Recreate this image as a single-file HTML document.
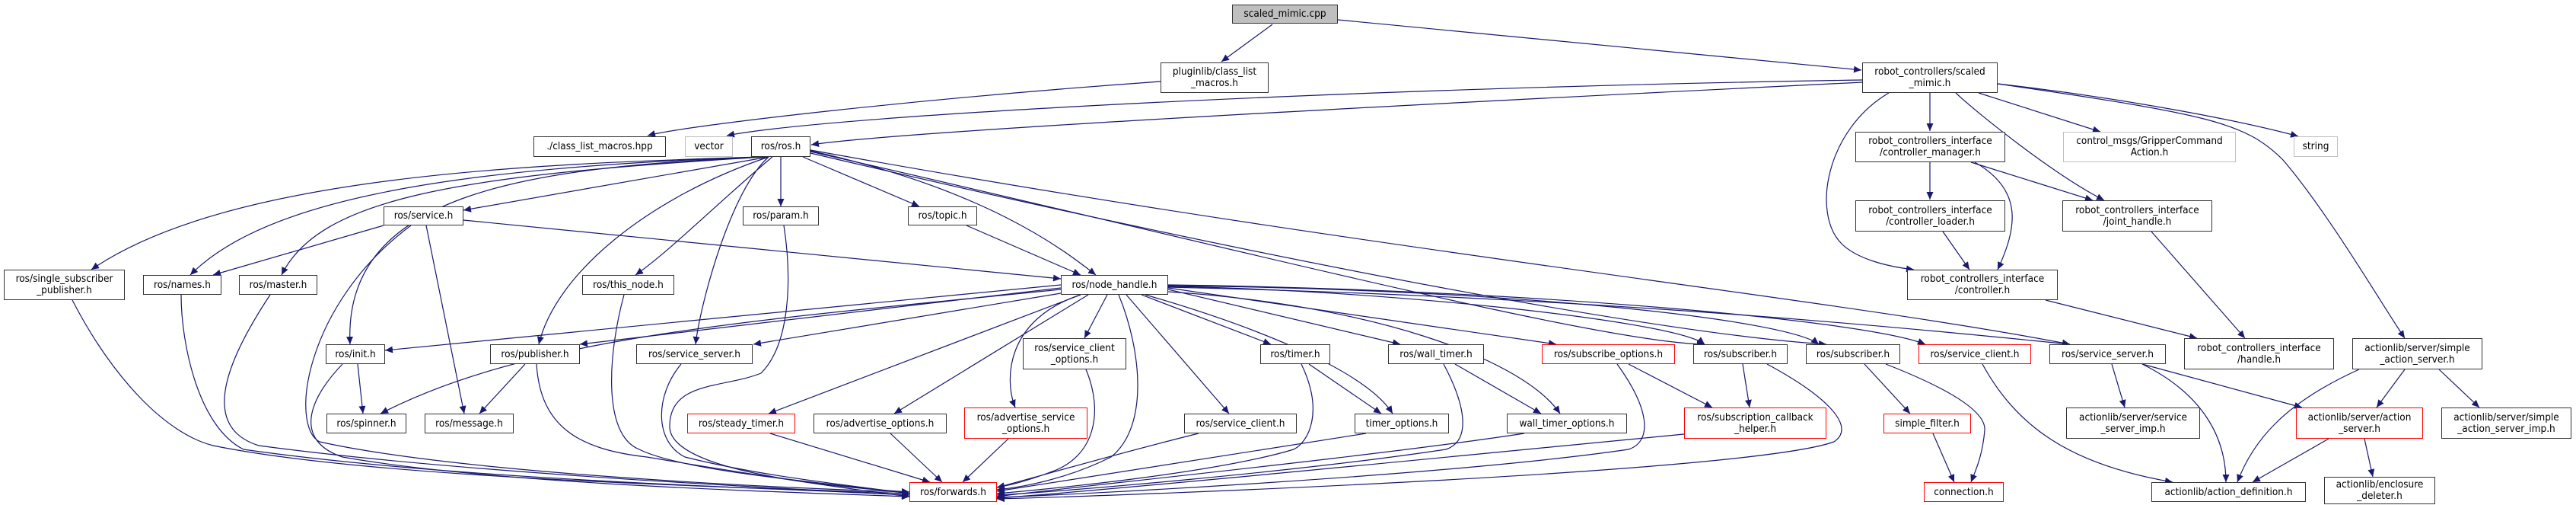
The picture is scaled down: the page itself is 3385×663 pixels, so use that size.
<!DOCTYPE html>
<html><head><meta charset="utf-8"><style>
html,body{margin:0;padding:0;background:#fff;}
#c{position:relative;width:3385px;height:663px;overflow:hidden;}
svg{position:absolute;left:0;top:0;}
.n{position:absolute;box-sizing:border-box;border:1.6px solid #333;background:#fff;display:flex;align-items:center;justify-content:center;text-align:center;font-family:"DejaVu Sans Condensed","Liberation Sans Narrow","DejaVu Sans",sans-serif;font-size:13.5px;line-height:15px;color:#000;white-space:nowrap;}
.r{border-color:#ff0000;}
.g{border-color:#bfbfbf;}
.f{background:#bfbfbf;}
</style></head><body><div id="c">
<svg width="3385" height="663" viewBox="0 0 3385 663">
<defs><marker id="a" markerWidth="11" markerHeight="9" refX="10" refY="4.5" orient="auto" markerUnits="userSpaceOnUse"><path d="M0,0 L10,4.5 L0,9 z" fill="#191970"/></marker></defs>
<g fill="none" stroke="#191970" stroke-width="1.2" marker-end="url(#a)">
<path d="M1672 32 L1605 81"/>
<path d="M1758 26 L2446 92"/>
<path d="M1525 107 C1200 130,900 165,851 178"/>
<path d="M2447 105 C1800 115,1100 150,955 178"/>
<path d="M2447 108 C2000 130,1200 170,1066 190"/>
<path d="M2536 122 L2536 172"/>
<path d="M2600 122 L2760 173"/>
<path d="M2625 110 C2800 130,2950 160,3020 179"/>
<path d="M2570 122 C2600 150,2700 230,2765 263"/>
<path d="M2482 122 C2400 170,2380 280,2420 320 C2440 340,2480 350,2515 354"/>
<path d="M2625 110 C2900 150,2950 160,3000 210 C3060 280,3130 400,3160 444"/>
<path d="M2536 213 L2536 262"/>
<path d="M2590 213 L2750 263"/>
<path d="M2595 213 C2660 250,2650 300,2625 354"/>
<path d="M2553 304 L2588 354"/>
<path d="M2827 304 L2950 444"/>
<path d="M2688 394 L2887 444"/>
<path d="M1000 206 C700 215,300 230,120 354"/>
<path d="M1000 206 C600 220,350 260,250 361"/>
<path d="M1005 206 C600 230,420 260,370 361"/>
<path d="M1010 206 L609 276"/>
<path d="M1000 206 C700 220,450 250,460 452"/>
<path d="M1010 206 C850 260,730 360,708 452"/>
<path d="M1010 206 C960 250,920 400,914 452"/>
<path d="M1015 206 C950 260,880 330,835 361"/>
<path d="M1026 206 L1026 271"/>
<path d="M1055 206 L1208 271"/>
<path d="M1065 198 C1300 250,1400 330,1440 361"/>
<path d="M1065 199 C1600 320,2100 450,2240 452"/>
<path d="M1065 201 C1700 350,2200 440,2400 452"/>
<path d="M1065 197 C1800 330,2400 390,2720 452"/>
<path d="M504 296 L280 361"/>
<path d="M540 296 C400 400,380 560,420 580 C600 620,1000 640,1195 646"/>
<path d="M560 296 L610 543"/>
<path d="M609 289 L1394 366"/>
<path d="M1270 296 L1420 361"/>
<path d="M1030 296 C1040 360,1040 450,1000 490 C950 510,880 500,880 560 C880 620,1100 640,1195 646"/>
<path d="M95 394 C150 500,220 570,280 585 C500 630,1000 640,1195 648"/>
<path d="M238 387 C238 450,260 560,320 590 C600 630,1000 640,1195 650"/>
<path d="M355 387 C300 470,260 560,340 585 C600 620,1000 640,1195 650"/>
<path d="M820 387 C800 460,790 570,840 590 C900 620,1100 635,1195 648"/>
<path d="M1394 374 L506 460"/>
<path d="M1394 380 C1000 420,700 440,500 543"/>
<path d="M1394 378 L762 452"/>
<path d="M1394 385 L990 452"/>
<path d="M1420 387 L1010 543"/>
<path d="M1430 387 L1175 543"/>
<path d="M1420 387 C1320 420,1320 500,1334 535"/>
<path d="M1455 387 L1425 444"/>
<path d="M1470 387 C1500 460,1510 560,1460 600 C1400 630,1340 640,1310 643"/>
<path d="M1480 387 L1615 543"/>
<path d="M1500 387 L1670 452"/>
<path d="M1505 387 C1620 420,1790 480,1830 543"/>
<path d="M1535 380 L1840 452"/>
<path d="M1535 383 C1800 400,2000 470,2050 543"/>
<path d="M1535 378 L2045 452"/>
<path d="M1535 376 C1800 380,2200 420,2240 452"/>
<path d="M1535 375 C2000 380,2350 420,2390 452"/>
<path d="M1535 374 C2000 380,2450 420,2530 452"/>
<path d="M1535 377 C2100 390,2500 430,2720 452"/>
<path d="M470 478 L477 543"/>
<path d="M450 478 C400 530,390 580,450 600 C650 635,1000 645,1195 652"/>
<path d="M690 478 L630 543"/>
<path d="M705 478 C710 560,760 590,850 600 C1000 625,1100 640,1195 652"/>
<path d="M895 478 C860 520,860 580,900 600 C1000 625,1100 635,1195 648"/>
<path d="M1427 485 C1450 540,1440 600,1380 620 C1340 635,1320 638,1310 640"/>
<path d="M1012 569 L1222 633"/>
<path d="M1170 569 L1238 633"/>
<path d="M1325 576 L1265 633"/>
<path d="M1575 569 C1450 600,1350 630,1310 640"/>
<path d="M1710 478 C1740 540,1720 580,1700 590 C1600 620,1400 640,1310 648"/>
<path d="M1720 478 L1815 543"/>
<path d="M1912 478 L2025 543"/>
<path d="M1897 478 C1930 540,1930 580,1900 590 C1700 620,1400 645,1310 650"/>
<path d="M1795 569 C1600 600,1400 630,1310 645"/>
<path d="M2003 569 C1800 600,1400 640,1310 652"/>
<path d="M2140 478 L2250 535"/>
<path d="M2125 478 C2170 540,2170 580,2140 590 C1900 625,1400 650,1310 653"/>
<path d="M2290 478 L2299 535"/>
<path d="M2322 478 C2400 520,2440 560,2410 580 C2300 620,1500 650,1310 655"/>
<path d="M2213 570 C1900 600,1500 640,1310 654"/>
<path d="M2450 478 L2510 543"/>
<path d="M2478 478 C2560 510,2610 540,2608 565 C2605 600,2595 620,2590 633"/>
<path d="M2540 569 L2568 633"/>
<path d="M2605 478 C2650 560,2720 610,2855 633"/>
<path d="M2775 478 L2792 535"/>
<path d="M2815 478 C2900 520,2925 580,2925 633"/>
<path d="M2815 478 L3025 535"/>
<path d="M3100 485 C3000 530,2960 580,2940 633"/>
<path d="M3160 485 L3123 535"/>
<path d="M3205 485 L3258 535"/>
<path d="M3060 576 L2960 633"/>
<path d="M3107 576 L3118 626"/>
</g></svg>
<div class="n f" style="left:1619px;top:6px;width:139px;height:25px">scaled_mimic.cpp</div>
<div class="n" style="left:1525px;top:82px;width:142px;height:40px">pluginlib/class_list<br>_macros.h</div>
<div class="n" style="left:2447px;top:82px;width:178px;height:40px">robot_controllers/scaled<br>_mimic.h</div>
<div class="n" style="left:701px;top:179px;width:174px;height:27px">./class_list_macros.hpp</div>
<div class="n g" style="left:900px;top:179px;width:63px;height:27px">vector</div>
<div class="n" style="left:987px;top:179px;width:78px;height:27px">ros/ros.h</div>
<div class="n" style="left:2438px;top:173px;width:197px;height:40px">robot_controllers_interface<br>/controller_manager.h</div>
<div class="n g" style="left:2711px;top:173px;width:227px;height:40px">control_msgs/GripperCommand<br>Action.h</div>
<div class="n g" style="left:3014px;top:179px;width:58px;height:27px">string</div>
<div class="n" style="left:504px;top:271px;width:105px;height:25px">ros/service.h</div>
<div class="n" style="left:976px;top:271px;width:100px;height:25px">ros/param.h</div>
<div class="n" style="left:1193px;top:271px;width:91px;height:25px">ros/topic.h</div>
<div class="n" style="left:2438px;top:263px;width:197px;height:41px">robot_controllers_interface<br>/controller_loader.h</div>
<div class="n" style="left:2710px;top:263px;width:197px;height:41px">robot_controllers_interface<br>/joint_handle.h</div>
<div class="n" style="left:5px;top:354px;width:159px;height:40px">ros/single_subscriber<br>_publisher.h</div>
<div class="n" style="left:188px;top:361px;width:103px;height:26px">ros/names.h</div>
<div class="n" style="left:314px;top:361px;width:103px;height:26px">ros/master.h</div>
<div class="n" style="left:765px;top:361px;width:121px;height:26px">ros/this_node.h</div>
<div class="n" style="left:1394px;top:361px;width:141px;height:26px">ros/node_handle.h</div>
<div class="n" style="left:2506px;top:354px;width:198px;height:40px">robot_controllers_interface<br>/controller.h</div>
<div class="n" style="left:428px;top:452px;width:78px;height:26px">ros/init.h</div>
<div class="n" style="left:644px;top:452px;width:118px;height:26px">ros/publisher.h</div>
<div class="n" style="left:836px;top:452px;width:153px;height:26px">ros/service_server.h</div>
<div class="n" style="left:1344px;top:444px;width:136px;height:41px">ros/service_client<br>_options.h</div>
<div class="n" style="left:1656px;top:452px;width:92px;height:26px">ros/timer.h</div>
<div class="n" style="left:1824px;top:452px;width:126px;height:26px">ros/wall_timer.h</div>
<div class="n r" style="left:2026px;top:452px;width:175px;height:26px">ros/subscribe_options.h</div>
<div class="n" style="left:2225px;top:452px;width:124px;height:26px">ros/subscriber.h</div>
<div class="n" style="left:2373px;top:452px;width:124px;height:26px">ros/subscriber.h</div>
<div class="n r" style="left:2521px;top:452px;width:148px;height:26px">ros/service_client.h</div>
<div class="n" style="left:2693px;top:452px;width:153px;height:26px">ros/service_server.h</div>
<div class="n" style="left:2870px;top:444px;width:197px;height:41px">robot_controllers_interface<br>/handle.h</div>
<div class="n" style="left:3091px;top:444px;width:171px;height:41px">actionlib/server/simple<br>_action_server.h</div>
<div class="n" style="left:429px;top:543px;width:105px;height:26px">ros/spinner.h</div>
<div class="n" style="left:558px;top:543px;width:117px;height:26px">ros/message.h</div>
<div class="n r" style="left:903px;top:543px;width:142px;height:26px">ros/steady_timer.h</div>
<div class="n" style="left:1069px;top:543px;width:175px;height:26px">ros/advertise_options.h</div>
<div class="n r" style="left:1267px;top:535px;width:162px;height:41px">ros/advertise_service<br>_options.h</div>
<div class="n" style="left:1556px;top:543px;width:148px;height:26px">ros/service_client.h</div>
<div class="n" style="left:1780px;top:543px;width:124px;height:26px">timer_options.h</div>
<div class="n" style="left:1980px;top:543px;width:158px;height:26px">wall_timer_options.h</div>
<div class="n r" style="left:2213px;top:535px;width:187px;height:41px">ros/subscription_callback<br>_helper.h</div>
<div class="n r" style="left:2475px;top:543px;width:115px;height:26px">simple_filter.h</div>
<div class="n" style="left:2715px;top:535px;width:176px;height:41px">actionlib/server/service<br>_server_imp.h</div>
<div class="n r" style="left:3017px;top:535px;width:167px;height:41px">actionlib/server/action<br>_server.h</div>
<div class="n" style="left:3208px;top:535px;width:171px;height:41px">actionlib/server/simple<br>_action_server_imp.h</div>
<div class="n r" style="left:1195px;top:633px;width:115px;height:26px">ros/forwards.h</div>
<div class="n r" style="left:2528px;top:633px;width:105px;height:26px">connection.h</div>
<div class="n" style="left:2827px;top:633px;width:203px;height:26px">actionlib/action_definition.h</div>
<div class="n" style="left:3054px;top:626px;width:146px;height:36px">actionlib/enclosure<br>_deleter.h</div>
</div></body></html>
